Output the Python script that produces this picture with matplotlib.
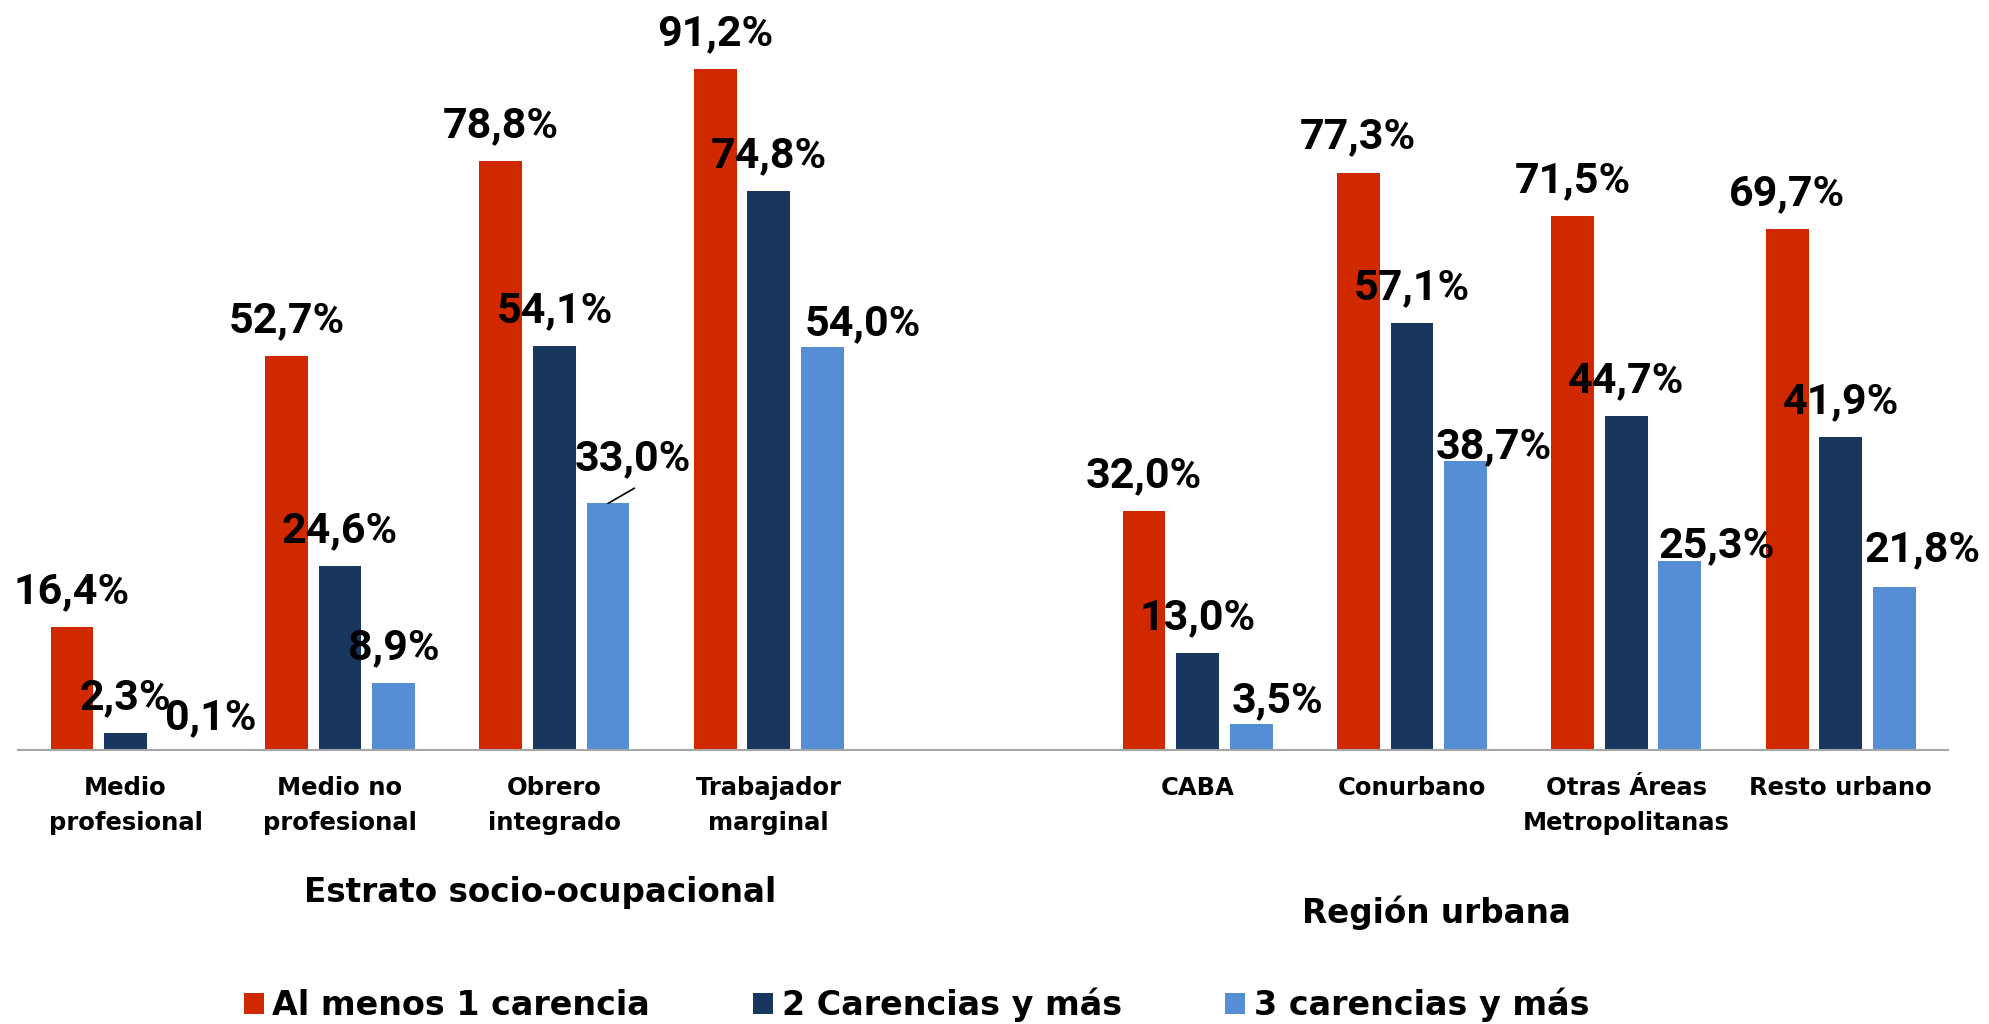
import numpy as np
import matplotlib
matplotlib.use("Agg")
import matplotlib.pyplot as plt

# datos
estratos = ["Medio\nprofesional", "Medio no\nprofesional", "Obrero\nintegrado", "Trabajador\nmarginal"]
regiones = ["CABA", "Conurbano", "Otras Áreas\nMetropolitanas", "Resto urbano"]
series = ["Al menos 1 carencia", "2 Carencias y más", "3 carencias y más"]
al_menos_1 = [16.4, 52.7, 78.8, 91.2, 32.0, 77.3, 71.5, 69.7]
dos_y_mas = [2.3, 24.6, 54.1, 74.8, 13.0, 57.1, 44.7, 41.9]
tres_y_mas = [0.1, 8.9, 33.0, 54.0, 3.5, 38.7, 25.3, 21.8]

colores = ["#D02900", "#17375E", "#558ED5"]

# desplazamiento de algunas etiquetas (pt): (serie, indice) -> (dx, dy)
desplaz = {
    (2, 0): (23, 23),
    (2, 2): (18, 32),
    (2, 3): (29, 16.5),
    (2, 4): (19, 16.5),
    (2, 5): (20, 10),
    (2, 6): (26.5, 11),
    (2, 7): (20, 27),
}
con_linea = [(2, 2)]

plt.rcParams['font.family'] = ['DejaVu Sans']

fig = plt.figure(figsize=(19.89, 10.24), dpi=100)
ax = fig.add_axes([0.00925, 0.2676, 0.9701, 0.7295])

categorias = estratos + [""] + regiones
x = np.arange(len(categorias))
pos = np.array([i for i, c in enumerate(categorias) if c != ""])

ancho = 0.2
offsets = [-0.25, 0.0, 0.25]
for k, vals in enumerate([al_menos_1, dos_y_mas, tres_y_mas]):
    xs = pos + offsets[k]
    ax.bar(xs, vals, width=ancho, color=colores[k], label=series[k])
    for i, (xi, v) in enumerate(zip(xs, vals)):
        dx, dy = desplaz.get((k, i), (0, 25.5))
        txt = f"{v:.1f}%".replace(".", ",")
        ax.annotate(txt, xy=(xi, v), xytext=(dx, dy), textcoords="offset points",
                    ha="center", va="center", fontsize=31, fontweight="bold",
                    family=["Roboto", "DejaVu Sans"])
        if (k, i) in con_linea:
            ax.annotate("", xy=(xi, v), xytext=(19, 11), textcoords="offset points",
                        arrowprops=dict(arrowstyle="-", color="black", lw=1.2,
                                        shrinkA=0, shrinkB=0))

ax.set_xlim(-0.5, len(categorias) - 0.5)
ax.set_ylim(0, 100)
ax.set_xticks(x)
ax.set_xticklabels(categorias, fontsize=17.5, fontweight="bold", linespacing=1.55)
ax.tick_params(axis="x", length=0, pad=19)
ax.set_yticks([])
for s in ["top", "right", "left"]:
    ax.spines[s].set_visible(False)
ax.spines["bottom"].set_color("#A6A6A6")
ax.spines["bottom"].set_linewidth(1.5)

fig.text(0.2715, 0.1289, "Estrato socio-ocupacional", ha="center", va="center",
         fontsize=23.5, fontweight="bold")
fig.text(0.722, 0.1084, "Región urbana", ha="center", va="center",
         fontsize=23.5, fontweight="bold")

fig.legend(loc="center", bbox_to_anchor=(0.4608, 0.0186), ncol=3, frameon=False,
           prop=dict(size=24, weight="bold"), handlelength=0.6, handleheight=0.6,
           handletextpad=0.25, columnspacing=3.1)

fig.savefig("out.png", dpi=100)
